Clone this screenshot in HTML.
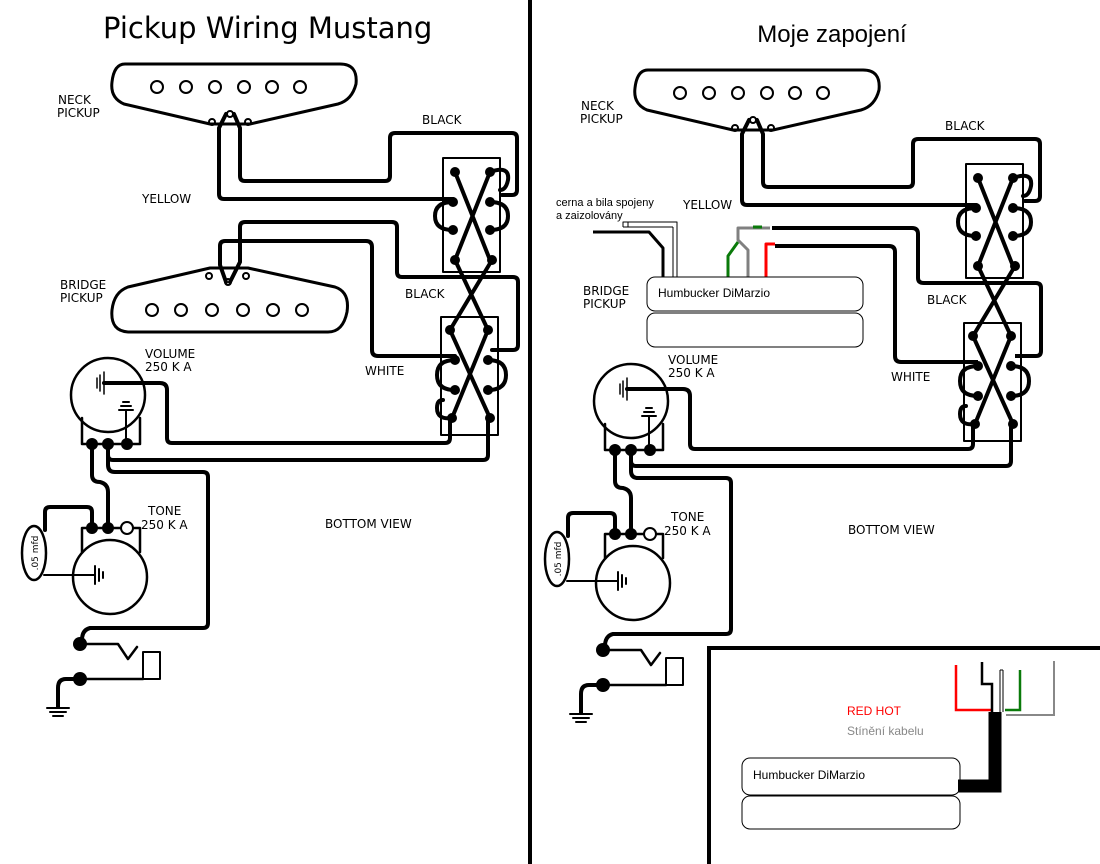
<!DOCTYPE html>
<html><head><meta charset="utf-8"><style>
html,body{margin:0;padding:0;background:#fff;width:1100px;height:864px;overflow:hidden}
svg{display:block}
.l{font-family:"DejaVu Sans","Liberation Sans",sans-serif;font-size:12px;fill:#000}
.t{font-family:"DejaVu Sans",sans-serif;font-size:29px;letter-spacing:0}
</style></head><body>
<svg width="1100" height="864" viewBox="0 0 1100 864" xmlns="http://www.w3.org/2000/svg">
<defs>
<g id="common" fill="none" stroke="#000" stroke-linejoin="round" stroke-linecap="round">
  <path d="M125,64 H340 Q358,64 356,84 Q352,100 338,104 L250,124 H210 L124,104 Q110,98 112,82 Q114,64 125,64 Z" stroke-width="3"/>
  <g stroke-width="2"><circle cx="157" cy="87" r="6"/><circle cx="186" cy="87" r="6"/><circle cx="215" cy="87" r="6"/><circle cx="244" cy="87" r="6"/><circle cx="272" cy="87" r="6"/><circle cx="300" cy="87" r="6"/>
  <circle cx="212" cy="122" r="3"/><circle cx="248" cy="122" r="3"/><circle cx="230" cy="114" r="3"/></g>
  <path d="M226,114 L219,128 V194 Q219,199 224,199 H453" stroke-width="4"/>
  <path d="M234,114 L240,128 V176 Q240,181 245,181 H385 Q390,181 390,176 V138 Q390,133 395,133 H512 Q517,133 517,138 V190 Q517,195 512,195 H502" stroke-width="4"/>
  <rect x="443" y="158" width="57" height="114" stroke-width="2"/>
  <path d="M455,172 L490,260 M490,172 L455,260" stroke-width="4"/>
  <path d="M490,172 Q510,165 508,180 Q506,190 500,190" stroke-width="4"/>
  <path d="M453,202 Q435,202 435,216 Q435,230 453,230" stroke-width="4"/>
  <path d="M490,202 Q508,202 508,216 Q508,230 490,230" stroke-width="4"/>
  <path d="M455,260 L488,330 M492,260 L450,330" stroke-width="4"/>
  <rect x="441" y="317" width="57" height="118" stroke-width="2"/>
  <path d="M450,330 L490,418 M488,330 L452,418" stroke-width="4"/>
  <path d="M455,360 Q437,360 437,375 Q437,390 455,390" stroke-width="4"/>
  <path d="M488,360 Q506,360 506,375 Q506,390 488,390" stroke-width="4"/>
  <path d="M452,418 Q437,420 437,408 Q437,400 443,400" stroke-width="4"/>
  <g fill="#000" stroke="none">
   <circle cx="455" cy="172" r="5"/><circle cx="490" cy="172" r="5"/><circle cx="453" cy="202" r="5"/><circle cx="490" cy="202" r="5"/><circle cx="453" cy="230" r="5"/><circle cx="490" cy="230" r="5"/><circle cx="455" cy="260" r="5"/><circle cx="492" cy="260" r="5"/>
   <circle cx="450" cy="330" r="5"/><circle cx="488" cy="330" r="5"/><circle cx="455" cy="360" r="5"/><circle cx="488" cy="360" r="5"/><circle cx="455" cy="390" r="5"/><circle cx="488" cy="390" r="5"/><circle cx="452" cy="418" r="5"/><circle cx="490" cy="418" r="5"/>
  </g>
  <circle cx="108" cy="395" r="37" stroke-width="2.5"/>
  <path d="M82,418 V444 H140 V418" stroke-width="2.5"/>
  <path d="M104,383 H160 Q167,383 167,390 V438 Q167,443 172,443 H445 Q450,443 450,438 V418" stroke-width="4"/>
  <path d="M97,378 V388 M100,375 V391 M104,372 V394" stroke-width="1.5"/>
  <path d="M126,410 V442 M119,410 H133 M121,406 H131 M123,402 H129" stroke-width="2"/>
  <path d="M108,444 V455 Q108,460 113,460 H483 Q488,460 488,455 V418" stroke-width="4"/>
  <path d="M92,444 V475 Q92,482 100,482 Q108,484 108,492 V528" stroke-width="4"/>
  <path d="M108,455 V465 Q108,472 115,472 H203 Q208,472 208,477 V623 Q208,628 203,628 H90 Q82,630 82,640" stroke-width="4"/>
  <g fill="#000" stroke="none"><circle cx="92" cy="444" r="6"/><circle cx="108" cy="444" r="6"/><circle cx="127" cy="444" r="6"/></g>
  <circle cx="110" cy="577" r="37" stroke-width="2.5"/>
  <path d="M82,552 V528 H140 V552" stroke-width="2.5"/>
  <path d="M92,528 V512 Q92,507 87,507 H50 Q45,507 45,512 V530" stroke-width="4"/>
  <ellipse cx="34" cy="553" rx="12" ry="27" stroke-width="2.5"/>
  <path d="M44,575 H95 M95,566 V584 M99,569 V581 M103,572 V578" stroke-width="2"/>
  <g fill="#000" stroke="none"><circle cx="92" cy="528" r="6"/><circle cx="108" cy="528" r="6"/></g>
  <circle cx="127" cy="528" r="6" fill="#fff" stroke-width="2"/>
  <path d="M82,644 H118 L128,659 L137,647" stroke-width="2.5"/>
  <rect x="143" y="652" width="17" height="27" stroke-width="2"/>
  <path d="M80,679 H143" stroke-width="2.5"/>
  <path d="M80,679 H66 Q58,679 58,688 V707" stroke-width="4"/>
  <path d="M47,708 H69 M50,712 H66 M53,716 H63" stroke-width="2"/>
  <g fill="#000" stroke="none"><circle cx="80" cy="644" r="7"/><circle cx="80" cy="679" r="7"/></g>
</g>
</defs>

<use href="#common"/>
<use href="#common" transform="translate(523,6)"/>

<g fill="none" stroke="#000" stroke-linejoin="round" stroke-linecap="round">
  <path d="M210,268 H248 L335,287 Q350,292 347,312 Q343,332 328,332 H130 Q110,332 112,310 Q114,292 128,287 Z" stroke-width="3"/>
  <g stroke-width="2"><circle cx="152" cy="310" r="6"/><circle cx="181" cy="310" r="6"/><circle cx="212" cy="310" r="6"/><circle cx="243" cy="310" r="6"/><circle cx="273" cy="310" r="6"/><circle cx="302" cy="310" r="6"/>
  <circle cx="209" cy="276" r="3"/><circle cx="246" cy="276" r="3"/><circle cx="228" cy="282" r="3"/></g>
  <path d="M226,282 L220,265 V246 Q220,241 225,241 H366 Q372,241 372,247 V350 Q372,356 378,356 H455" stroke-width="4"/>
  <path d="M230,282 L240,262 V227 Q240,222 245,222 H392 Q397,222 397,227 V272 Q397,277 402,277 H513 Q518,277 518,282 V345 Q518,350 513,350 H492" stroke-width="4"/>
</g>

<g fill="none" stroke-linejoin="round">
  <path d="M772,228 H912 Q918,228 918,234 V278 Q918,283 924,283 H1036 Q1041,283 1041,288 V351 Q1041,356 1036,356 H1015" stroke="#000" stroke-width="4"/>
  <path d="M775,246 H889 Q895,246 895,252 V356 Q895,362 901,362 H978" stroke="#000" stroke-width="4"/>
  <path d="M593,232 H649 L663,248 V277" stroke="#000" stroke-width="3"/>
  <path d="M623,227 V222 H677 V277 M623,227 H628 V222 M673,227 V277 M628,227 H673" stroke="#000" stroke-width="1"/>
  <path d="M728,277 V256 L738,242" stroke="#0a7a0a" stroke-width="3"/>
  <path d="M748,277 V250 L738,240 V228 H770" stroke="#808080" stroke-width="3"/>
  <path d="M753,227 H762" stroke="#0a7a0a" stroke-width="3"/>
  <path d="M766,277 V244 H775" stroke="#f00" stroke-width="3"/>
  <rect x="647" y="277" width="216" height="34" rx="8" stroke="#000" stroke-width="1"/>
  <rect x="647" y="313" width="216" height="34" rx="8" stroke="#000" stroke-width="1"/>
</g>
<text x="658" y="297" font-family="Liberation Sans, sans-serif" font-size="12">Humbucker DiMarzio</text>
<text x="556" y="206" font-family="Liberation Sans, sans-serif" font-size="11">cerna a bila spojeny</text>
<text x="556" y="219" font-family="Liberation Sans, sans-serif" font-size="11">a zaizolovány</text>

<rect x="528" y="0" width="4" height="864" fill="#000"/>
<path d="M709,864 V648 H1100" fill="none" stroke="#000" stroke-width="4"/>

<g fill="none" stroke-linejoin="miter">
  <path d="M956,665 V710 H993" stroke="#f00" stroke-width="2.5"/>
  <path d="M982,662 V684 H992 V712" stroke="#000" stroke-width="2.5"/>
  <path d="M1000,670 V712 M1003,670 V712 M1000,670 H1003" stroke="#000" stroke-width="1"/>
  <path d="M1020,670 V710 H1005" stroke="#0a7a0a" stroke-width="2.5"/>
  <path d="M1054,661 V715 H1006" stroke="#888" stroke-width="2"/>
  <path d="M995,712 V786 H958" stroke="#000" stroke-width="13"/>
  <rect x="742" y="758" width="218" height="37" rx="8" stroke="#000" stroke-width="1"/>
  <rect x="742" y="796" width="218" height="33" rx="8" stroke="#000" stroke-width="1"/>
</g>
<text x="753" y="779" font-family="Liberation Sans, sans-serif" font-size="12">Humbucker DiMarzio</text>
<text x="847" y="715" font-family="Liberation Sans, sans-serif" font-size="12" fill="#f00">RED HOT</text>
<text x="847" y="735" font-family="Liberation Sans, sans-serif" font-size="12" fill="#888">Stínění kabelu</text>

<text class="t" x="103" y="38" font-family="DejaVu Sans, sans-serif" font-size="29">Pickup Wiring Mustang</text>
<text x="832" y="42" text-anchor="middle" font-family="Liberation Sans, sans-serif" font-size="24">Moje zapojení</text>

<g class="l">
<text x="58" y="104">NECK</text><text x="57" y="117">PICKUP</text>
<text x="422" y="124">BLACK</text>
<text x="142" y="203">YELLOW</text>
<text x="60" y="289">BRIDGE</text><text x="60" y="302">PICKUP</text>
<text x="405" y="298">BLACK</text>
<text x="145" y="358">VOLUME</text><text x="145" y="371">250 K A</text>
<text x="365" y="375">WHITE</text>
<text x="148" y="515">TONE</text><text x="141" y="529">250 K A</text>
<text x="325" y="528">BOTTOM VIEW</text>
<text x="38" y="553" font-size="9" transform="rotate(-90 38 553)" text-anchor="middle">.05 mfd</text>
</g>
<g class="l">
<text x="581" y="110">NECK</text><text x="580" y="123">PICKUP</text>
<text x="945" y="130">BLACK</text>
<text x="683" y="209">YELLOW</text>
<text x="583" y="295">BRIDGE</text><text x="583" y="308">PICKUP</text>
<text x="927" y="304">BLACK</text>
<text x="668" y="364">VOLUME</text><text x="668" y="377">250 K A</text>
<text x="891" y="381">WHITE</text>
<text x="671" y="521">TONE</text><text x="664" y="535">250 K A</text>
<text x="848" y="534">BOTTOM VIEW</text>
<text x="561" y="559" font-size="9" transform="rotate(-90 561 559)" text-anchor="middle">.05 mfd</text>
</g>
</svg>
</body></html>
